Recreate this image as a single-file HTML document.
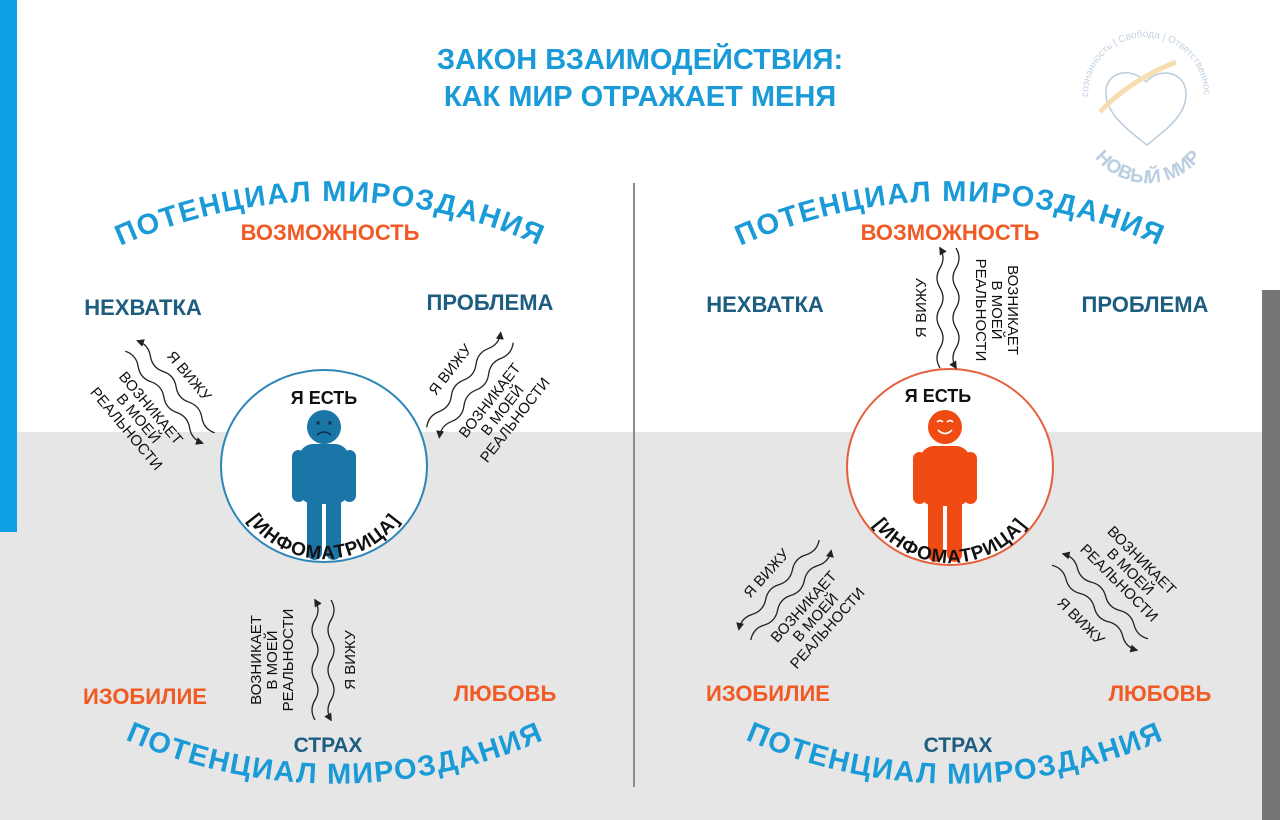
<!DOCTYPE html>
<html><head><meta charset="utf-8"><style>
html,body{margin:0;padding:0;background:#fff}
svg{display:block}
text{font-family:"Liberation Sans","DejaVu Sans",sans-serif}
</style></head><body>
<svg width="1280" height="820" viewBox="0 0 1280 820" xmlns="http://www.w3.org/2000/svg">
<defs>
<marker id="ah" viewBox="0 0 10 10" refX="8" refY="5" markerWidth="8" markerHeight="8" orient="auto-start-reverse" markerUnits="userSpaceOnUse"><path d="M0,0 L10,5 L0,10 z" fill="#222"/></marker>
<path id="wv" d="M-60,0 q10,-6 20,0 t20,0 t20,0 t20,0 t20,0 t20,0"/>
<path id="tl" d="M118,247 A 512 512 0 0 1 542,247"/>
<path id="tr" d="M738,247 A 512 512 0 0 1 1162,247"/>
<path id="bl" d="M122,738 A 520 520 0 0 0 548,738"/>
<path id="br" d="M742,738 A 520 520 0 0 0 1168,738"/>
<path id="il" d="M230,465 A 94 94 0 0 0 418,465"/>
<path id="ir" d="M854,467 A 96 96 0 0 0 1046,467"/>
<path id="lg" d="M1088,95 A 58 58 0 1 1 1204,95"/>
<path id="lg2" d="M1080,115 A 68 68 0 0 0 1216,115"/>
</defs>
<rect x="0" y="432" width="1280" height="388" fill="#e6e6e6"/>
<rect x="0" y="0" width="17" height="532" fill="#0d9fe2"/>
<rect x="1262" y="290" width="18" height="530" fill="#767676"/>
<line x1="634" y1="183" x2="634" y2="787" stroke="#8a8a8a" stroke-width="2"/>

<text x="640" y="69" text-anchor="middle" font-size="29" font-weight="bold" fill="#1a9bd7">ЗАКОН ВЗАИМОДЕЙСТВИЯ:</text>
<text x="640" y="106" text-anchor="middle" font-size="29" font-weight="bold" fill="#1a9bd7">КАК МИР ОТРАЖАЕТ МЕНЯ</text>

<!-- logo -->
<g opacity="0.8">
<text font-size="10" fill="#b4c8da"><textPath href="#lg" startOffset="50%" text-anchor="middle">Осознанность | Свобода | Ответственность</textPath></text>
<path d="M1147,145 C1122,126 1104,110 1106,90 C1108,72 1130,66 1146,82 C1160,66 1186,72 1186,94 C1186,115 1168,128 1147,145 Z" fill="none" stroke="#a8bfd2" stroke-width="1.5"/>
<path d="M1100,112 C1120,90 1150,72 1176,62" fill="none" stroke="#f6d7a0" stroke-width="5"/>
<text font-size="19" font-weight="bold" fill="#a9c3da"><textPath href="#lg2" startOffset="50%" text-anchor="middle">НОВЫЙ МИР</textPath></text>
</g>

<!-- arc titles -->
<g font-size="29" font-weight="bold" fill="#1a9bd8" letter-spacing="1.5">
<text><textPath href="#tl" startOffset="50%" text-anchor="middle">ПОТЕНЦИАЛ  МИРОЗДАНИЯ</textPath></text>
<text><textPath href="#tr" startOffset="50%" text-anchor="middle">ПОТЕНЦИАЛ  МИРОЗДАНИЯ</textPath></text>
<text><textPath href="#bl" startOffset="50%" text-anchor="middle">ПОТЕНЦИАЛ  МИРОЗДАНИЯ</textPath></text>
<text><textPath href="#br" startOffset="50%" text-anchor="middle">ПОТЕНЦИАЛ  МИРОЗДАНИЯ</textPath></text>
</g>

<g font-size="22" font-weight="bold" text-anchor="middle">
<text x="330" y="240" fill="#f05a24">ВОЗМОЖНОСТЬ</text>
<text x="950" y="240" fill="#f05a24">ВОЗМОЖНОСТЬ</text>
<text x="143" y="315" fill="#1d5d80">НЕХВАТКА</text>
<text x="490" y="310" fill="#1d5d80">ПРОБЛЕМА</text>
<text x="765" y="312" fill="#1d5d80">НЕХВАТКА</text>
<text x="1145" y="312" fill="#1d5d80">ПРОБЛЕМА</text>
<text x="145" y="704" fill="#f05a24">ИЗОБИЛИЕ</text>
<text x="505" y="701" fill="#f05a24">ЛЮБОВЬ</text>
<text x="768" y="701" fill="#f05a24">ИЗОБИЛИЕ</text>
<text x="1160" y="701" fill="#f05a24">ЛЮБОВЬ</text>
<text x="328" y="752" fill="#1d5d80" font-size="21">СТРАХ</text>
<text x="958" y="752" fill="#1d5d80" font-size="21">СТРАХ</text>
</g>

<!-- left ellipse & figure -->
<ellipse cx="324" cy="466" rx="103" ry="96" fill="#fff" stroke="#2e86b8" stroke-width="2"/>
<text x="324" y="404" text-anchor="middle" font-size="18" font-weight="bold" fill="#111">Я ЕСТЬ</text>
<g fill="#1b76a8">
<circle cx="324" cy="427" r="17"/>
<rect x="299" y="444" width="50" height="60" rx="14"/>
<rect x="292" y="450" width="13" height="52" rx="6.5"/>
<rect x="343" y="450" width="13" height="52" rx="6.5"/>
<rect x="307" y="480" width="15" height="80" rx="7.5"/>
<rect x="326" y="480" width="15" height="80" rx="7.5"/>
</g>
<circle cx="318" cy="423" r="1.8" fill="#0d3550"/><circle cx="330" cy="423" r="1.8" fill="#0d3550"/>
<path d="M317,435 q7,-6 14,0" fill="none" stroke="#0d3550" stroke-width="1.8"/>
<text font-size="19" font-weight="bold" fill="#111" letter-spacing="1"><textPath href="#il" startOffset="50%" text-anchor="middle">[ИНФОМАТРИЦА]</textPath></text>

<!-- right ellipse & figure -->
<ellipse cx="950" cy="467" rx="103" ry="98" fill="#fff" stroke="#e5603c" stroke-width="2"/>
<text x="938" y="402" text-anchor="middle" font-size="18" font-weight="bold" fill="#111">Я ЕСТЬ</text>
<g fill="#f04b12">
<circle cx="945" cy="427" r="17"/>
<rect x="920" y="446" width="50" height="60" rx="14"/>
<rect x="913" y="452" width="13" height="52" rx="6.5"/>
<rect x="964" y="452" width="13" height="52" rx="6.5"/>
<rect x="928" y="482" width="15" height="80" rx="7.5"/>
<rect x="947" y="482" width="15" height="80" rx="7.5"/>
</g>
<path d="M937,422 q3,-3 6,0 M947,422 q3,-3 6,0 M938,430 q7,7 14,0" fill="none" stroke="#fff" stroke-width="1.6"/>
<text font-size="19" font-weight="bold" fill="#111" letter-spacing="1"><textPath href="#ir" startOffset="50%" text-anchor="middle">[ИНФОМАТРИЦА]</textPath></text>

<g font-size="15" fill="#111" stroke="none">
<!-- left NW -->
<g transform="translate(170,392) rotate(50)">
<use href="#wv" transform="translate(0,-8)" fill="none" stroke="#222" stroke-width="1.3" marker-start="url(#ah)"/>
<use href="#wv" transform="translate(0,8)" fill="none" stroke="#222" stroke-width="1.3" marker-end="url(#ah)"/>
<text x="0" y="-20" text-anchor="middle">Я ВИЖУ</text>
<text x="0" y="30" text-anchor="middle">ВОЗНИКАЕТ</text>
<text x="0" y="46" text-anchor="middle">В МОЕЙ</text>
<text x="0" y="62" text-anchor="middle">РЕАЛЬНОСТИ</text>
</g>
<!-- left NE -->
<g transform="translate(470,385) rotate(-52)">
<use href="#wv" transform="translate(0,-8)" fill="none" stroke="#222" stroke-width="1.3" marker-end="url(#ah)"/>
<use href="#wv" transform="translate(0,8)" fill="none" stroke="#222" stroke-width="1.3" marker-start="url(#ah)"/>
<text x="0" y="-20" text-anchor="middle">Я ВИЖУ</text>
<text x="0" y="30" text-anchor="middle">ВОЗНИКАЕТ</text>
<text x="0" y="46" text-anchor="middle">В МОЕЙ</text>
<text x="0" y="62" text-anchor="middle">РЕАЛЬНОСТИ</text>
</g>
<!-- left bottom -->
<g transform="translate(323,660) rotate(-90)">
<use href="#wv" transform="translate(0,-8)" fill="none" stroke="#222" stroke-width="1.3" marker-end="url(#ah)"/>
<use href="#wv" transform="translate(0,8)" fill="none" stroke="#222" stroke-width="1.3" marker-start="url(#ah)"/>
<text x="0" y="-62" text-anchor="middle">ВОЗНИКАЕТ</text>
<text x="0" y="-46" text-anchor="middle">В МОЕЙ</text>
<text x="0" y="-30" text-anchor="middle">РЕАЛЬНОСТИ</text>
<text x="0" y="32" text-anchor="middle">Я ВИЖУ</text>
</g>
<!-- right top -->
<g transform="translate(948,308) rotate(-90)">
<use href="#wv" transform="translate(0,-8)" fill="none" stroke="#222" stroke-width="1.3" marker-end="url(#ah)"/>
<use href="#wv" transform="translate(0,8)" fill="none" stroke="#222" stroke-width="1.3" marker-start="url(#ah)"/>
<text x="0" y="-22" text-anchor="middle">Я ВИЖУ</text>
</g>
<g transform="translate(992,310) rotate(90)">
<text x="0" y="-16" text-anchor="middle">ВОЗНИКАЕТ</text>
<text x="0" y="0" text-anchor="middle">В МОЕЙ</text>
<text x="0" y="16" text-anchor="middle">РЕАЛЬНОСТИ</text>
</g>
<!-- right SW -->
<g transform="translate(785,590) rotate(-48)">
<use href="#wv" transform="translate(0,-8)" fill="none" stroke="#222" stroke-width="1.3" marker-start="url(#ah)"/>
<use href="#wv" transform="translate(0,8)" fill="none" stroke="#222" stroke-width="1.3" marker-end="url(#ah)"/>
<text x="0" y="-20" text-anchor="middle">Я ВИЖУ</text>
<text x="0" y="30" text-anchor="middle">ВОЗНИКАЕТ</text>
<text x="0" y="46" text-anchor="middle">В МОЕЙ</text>
<text x="0" y="62" text-anchor="middle">РЕАЛЬНОСТИ</text>
</g>
<!-- right SE -->
<g transform="translate(1100,602) rotate(45)">
<use href="#wv" transform="translate(0,-8)" fill="none" stroke="#222" stroke-width="1.3" marker-start="url(#ah)"/>
<use href="#wv" transform="translate(0,8)" fill="none" stroke="#222" stroke-width="1.3" marker-end="url(#ah)"/>
<text x="0" y="-54" text-anchor="middle">ВОЗНИКАЕТ</text>
<text x="0" y="-38" text-anchor="middle">В МОЕЙ</text>
<text x="0" y="-22" text-anchor="middle">РЕАЛЬНОСТИ</text>
<text x="0" y="32" text-anchor="middle">Я ВИЖУ</text>
</g>
</g>
</svg>
</body></html>
